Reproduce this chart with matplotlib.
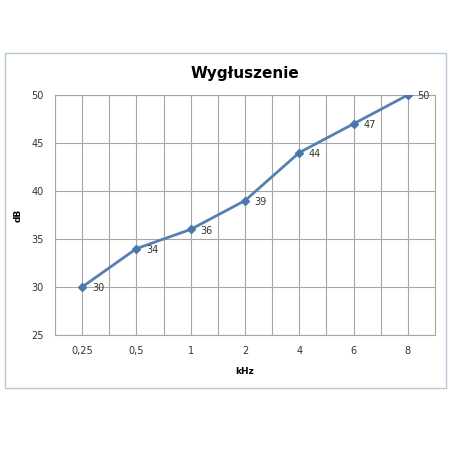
import matplotlib.pyplot as plt
from matplotlib.patches import Rectangle

freqs = ['0,25', '0,5', '1', '2', '4', '6', '8']
db = [30, 34, 36, 39, 44, 47, 50]

fig = plt.figure(figsize=(4.5, 4.5), dpi=100)

# chart frame like an Excel chart area
fig.patches.append(Rectangle((5/450, 1 - 388/450), 441/450, 335/450,
                             transform=fig.transFigure, fill=False,
                             edgecolor='#b9c9d6', linewidth=1.0))

ax = fig.add_axes([55/450, 1 - 335/450, 380/450, 240/450])
x = list(range(len(freqs)))
ax.plot(x, db, color='#5680b0', linewidth=2, marker='D', markersize=4,
        markerfacecolor='#4a78ad', markeredgecolor='#4a78ad', zorder=3)

for xi, yi in zip(x, db):
    ax.annotate(str(yi), (xi, yi), xytext=(7, -1), textcoords='offset points',
                fontsize=7, color='#333333', va='center', ha='left')

ax.set_xlim(-0.5, len(freqs) - 0.5)
ax.set_ylim(25, 50)
ax.set_xticks(x)
ax.set_xticklabels(freqs)
ax.set_xticks([i - 0.5 for i in range(len(freqs) + 1)], minor=True)
ax.set_yticks([25, 30, 35, 40, 45, 50])
ax.grid(True, which='both', axis='x', color='#a6a6a6', linewidth=0.8)
ax.grid(True, which='major', axis='y', color='#a6a6a6', linewidth=0.8)
ax.set_axisbelow(True)
ax.tick_params(axis='both', which='both', length=0, labelsize=7,
               colors='#333333', pad=8)
for s in ax.spines.values():
    s.set_color('#a6a6a6')
    s.set_linewidth(0.8)

ax.set_title('Wygłuszenie', fontsize=11, fontweight='bold', pad=12)
ax.set_xlabel('kHz', fontsize=6.5, fontweight='bold', labelpad=8)
ax.set_ylabel('dB', fontsize=6.5, fontweight='bold', labelpad=6)

fig.savefig('out.png', dpi=100)
